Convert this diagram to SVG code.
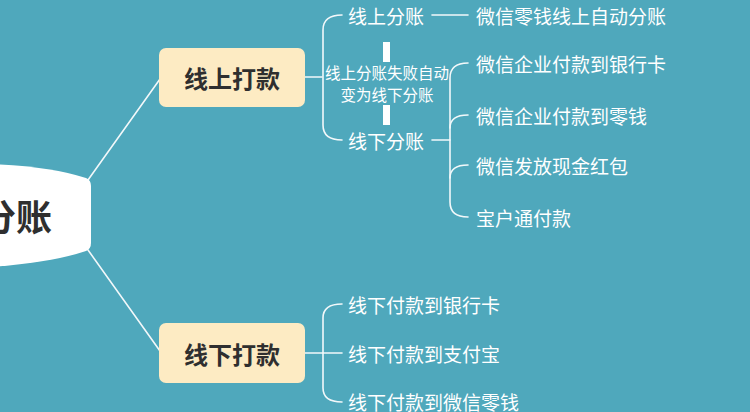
<svg xmlns="http://www.w3.org/2000/svg" width="750" height="412" viewBox="0 0 750 412">
<style>
.bg{fill:#4fa8bc}
.ln{fill:none;stroke:#f2f8fa;stroke-width:1.6;stroke-linecap:round}
.main{fill:#fdebc3}
.mt{font-family:"Noto Sans CJK SC","Noto Sans",sans-serif;font-weight:bold;font-size:24px;fill:#2f2f2f;text-anchor:middle;dominant-baseline:central}
.t{font-family:"Noto Sans CJK SC","Noto Sans",sans-serif;font-size:19px;fill:#ffffff;dominant-baseline:central}
.ts{font-family:"Noto Sans CJK SC","Noto Sans",sans-serif;font-size:15.5px;fill:#ffffff;text-anchor:middle;dominant-baseline:central}
.bar{fill:#ffffff}
</style>
<rect class="bg" x="0" y="0" width="750" height="412"/>
<g id="connectors">
<path class="ln" d="M88 180 L160 79"/>
<path class="ln" d="M88 250 L160 351"/>
<path class="ln" d="M305 77 L322 77"/>
<path class="ln" d="M342 15 Q323 15 323 30 L323 125 Q323 140 342 140"/>
<path class="ln" d="M432 15 L468 15"/>
<path class="ln" d="M432 140 L450 140"/>
<path class="ln" d="M468 63 Q450 63 450 78 L450 202 Q450 217 468 217"/>
<path class="ln" d="M468 115 Q450 115 450 128"/>
<path class="ln" d="M468 165 Q450 165 450 178"/>
<path class="ln" d="M305 353 L323 353"/>
<path class="ln" d="M342 304 Q323 304 323 318 L323 388 Q323 402 342 402"/>
<path class="ln" d="M323 353 L342 353"/>
</g>
<g id="root">
<path d="M-10 164 Q50 166 86 178 Q91 180 91 186 L91 243 Q91 249 86 251 Q50 263 -10 267 Z" fill="#ffffff"/>
<text x="52" y="215" font-family="Noto Sans CJK SC, Noto Sans, sans-serif" font-weight="bold" font-size="36" fill="#2f2f2f" text-anchor="end" dominant-baseline="central">分账</text>
</g>
<g id="node-online">
<rect class="main" x="159" y="48" width="146" height="59" rx="7"/>
<text class="mt" x="232" y="77">线上打款</text>
</g>
<g id="node-offline">
<rect class="main" x="159" y="323" width="146" height="60" rx="7"/>
<text class="mt" x="232" y="353">线下打款</text>
</g>
<g id="node-online-split"><text class="t" x="348" y="15">线上分账</text></g>
<g id="node-offline-split"><text class="t" x="348" y="140">线下分账</text></g>
<g id="node-fail-note">
<rect class="bar" x="383" y="42" width="7" height="20"/>
<rect class="bar" x="383" y="105" width="7" height="20"/>
<text class="ts" x="387" y="72">线上分账失败自动</text>
<text class="ts" x="387" y="94">变为线下分账</text>
</g>
<g id="node-w1"><text class="t" x="476" y="15">微信零钱线上自动分账</text></g>
<g id="node-w2"><text class="t" x="476" y="63">微信企业付款到银行卡</text></g>
<g id="node-w3"><text class="t" x="476" y="115">微信企业付款到零钱</text></g>
<g id="node-w4"><text class="t" x="476" y="165">微信发放现金红包</text></g>
<g id="node-w5"><text class="t" x="476" y="217">宝户通付款</text></g>
<g id="node-o1"><text class="t" x="348" y="304">线下付款到银行卡</text></g>
<g id="node-o2"><text class="t" x="348" y="353">线下付款到支付宝</text></g>
<g id="node-o3"><text class="t" x="348" y="401">线下付款到微信零钱</text></g>
</svg>
